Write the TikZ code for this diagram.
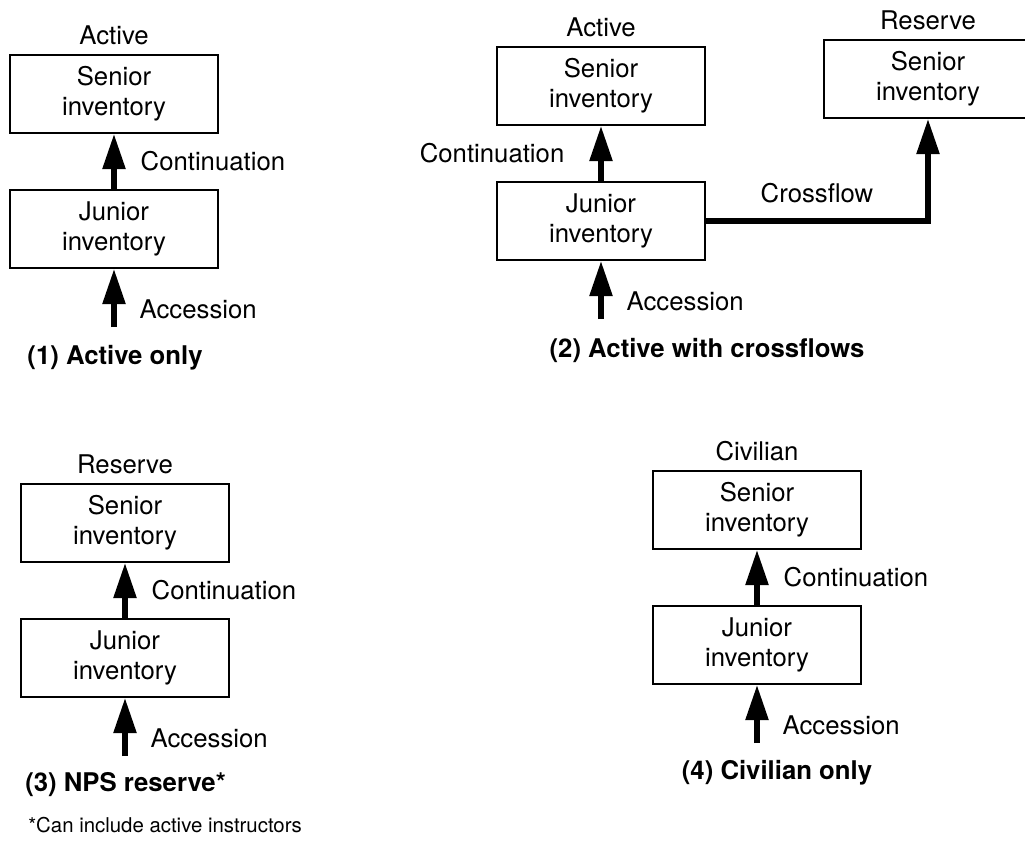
\documentclass[tikz,border=0pt]{standalone}
\usepackage{fontspec}
\setmainfont{TeX Gyre Heros}
\usetikzlibrary{arrows.meta,positioning}
\newcommand\boxfont{\fontsize{18.3pt}{21.5pt}\selectfont}
\newcommand\notefont{\fontsize{14.5pt}{17pt}\selectfont}
\tikzset{
  invbox/.style={draw,line width=1.4pt,minimum width=5.2cm,minimum height=1.95cm,
    align=center,inner sep=0pt,font=\boxfont},
  grouptag/.style={font=\boxfont,inner sep=0pt},
  flowarrow/.style={-{Triangle[length=8.75mm,width=5.5mm]},line width=3.8pt},
  flowtag/.style={font=\boxfont,inner sep=0pt},
  paneltitle/.style={font=\boxfont\bfseries,inner sep=0pt},
  notetext/.style={font=\notefont,inner sep=0pt}
}

\begin{document}
\begin{tikzpicture}[x=0.025cm,y=-0.025cm,node distance=1.375cm]
\useasboundingbox (0,0) rectangle (1025,841);
\node[invbox] (sen1) at (114,94) {Senior\\inventory};
\node[invbox,below=of sen1] (jun1) {Junior\\inventory};
\node[grouptag,above=2.25mm of sen1] (tag1) {Active};
\coordinate[below=1.45cm of jun1] (in1);
\draw[flowarrow] (jun1) -- node[flowtag,right=6mm] {Continuation} (sen1);
\draw[flowarrow] (in1) -- node[flowtag,right=5.75mm,pos=0.3] {Accession} (jun1);
\node[paneltitle] (title1) at (115,358) {(1) Active only};

\node[invbox] (sen2) at (601,86) {Senior\\inventory};
\node[invbox,below=of sen2] (jun2) {Junior\\inventory};
\node[grouptag,above=2.25mm of sen2] (tag2) {Active};
\node[invbox] (res2) at (928,79) {Senior\\inventory};
\node[grouptag,above=2.25mm of res2] (tag2r) {Reserve};
\coordinate[below=1.45cm of jun2] (in2);
\draw[flowarrow] (jun2) -- node[flowtag,left=8.5mm] {Continuation} (sen2);
\draw[flowarrow] (in2) -- node[flowtag,right=5.75mm,pos=0.3] {Accession} (jun2);
\draw[flowarrow] (jun2.east) -| node[flowtag,pos=0.25,above=3.75mm] {Crossflow} (res2.south);
\node[paneltitle] (title2) at (707,350) {(2) Active with crossflows};

\node[invbox] (sen3) at (125,523) {Senior\\inventory};
\node[invbox,below=of sen3] (jun3) {Junior\\inventory};
\node[grouptag,above=2.25mm of sen3] (tag3) {Reserve};
\coordinate[below=1.45cm of jun3] (in3);
\draw[flowarrow] (jun3) -- node[flowtag,right=6mm] {Continuation} (sen3);
\draw[flowarrow] (in3) -- node[flowtag,right=5.75mm,pos=0.3] {Accession} (jun3);
\node[paneltitle,anchor=west] (title3) at (25,785) {(3) NPS reserve*};
\node[notetext,anchor=west] (note3) at (28,825) {*Can include active instructors};

\node[invbox] (sen4) at (757,510) {Senior\\inventory};
\node[invbox,below=of sen4] (jun4) {Junior\\inventory};
\node[grouptag,above=2.25mm of sen4] (tag4) {Civilian};
\coordinate[below=1.45cm of jun4] (in4);
\draw[flowarrow] (jun4) -- node[flowtag,right=6mm] {Continuation} (sen4);
\draw[flowarrow] (in4) -- node[flowtag,right=5.75mm,pos=0.3] {Accession} (jun4);
\node[paneltitle] (title4) at (777,773) {(4) Civilian only};
\end{tikzpicture}
\end{document}
